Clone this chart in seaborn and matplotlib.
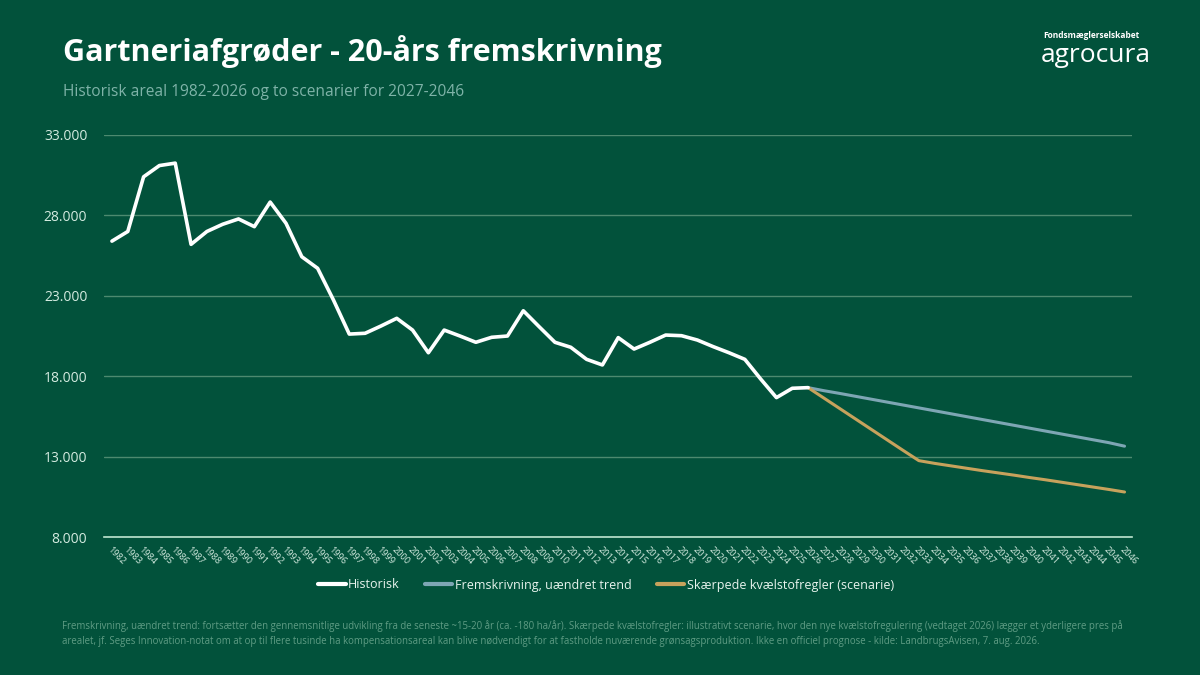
import numpy as np
import pandas as pd
import matplotlib
matplotlib.use('Agg')
import matplotlib.pyplot as plt
import seaborn as sns

# ---------------------------- DATA ----------------------------
hist_years = list(range(1982, 2027))
hist_values = [26400, 27000, 30400, 31100, 31250, 26200, 27000, 27450, 27780, 27300,
               28830, 27510, 25430, 24710, 22740, 20620, 20670, 21120, 21600, 20870,
               19460, 20870, 20500, 20110, 20420, 20500, 22070, 21080, 20110, 19800,
               19050, 18700, 20400, 19690, 20110, 20560, 20520, 20250, 19840, 19460,
               19050, 17830, 16670, 17250, 17290]

proj_years = list(range(2026, 2047))
trend_values = [17290, 17100, 16930, 16750, 16570, 16390, 16210, 16030, 15850, 15670,
                15490, 15310, 15130, 14950, 14770, 14590, 14410, 14230, 14050, 13870,
                13650]
strict_values = [17290, 16640, 15990, 15340, 14690, 14040, 13390, 12750, 12580, 12430,
                 12280, 12130, 11990, 11850, 11700, 11560, 11410, 11260, 11110, 10960,
                 10800]

series_names = ['Historisk', 'Fremskrivning, uændret trend', 'Skærpede kvælstofregler (scenarie)']
y_ticks = [8000, 13000, 18000, 23000, 28000, 33000]

# ---------------------------- STYLE ----------------------------
bg = '#02523b'
colors = ['#ffffff', '#7ea6b4', '#c7a25c']

sns.set_theme(style='white')
plt.rcParams['font.family'] = ['Open Sans', 'DejaVu Sans']

df = pd.concat([
    pd.DataFrame({'year': hist_years, 'value': hist_values, 'series': series_names[0]}),
    pd.DataFrame({'year': proj_years, 'value': trend_values, 'series': series_names[1]}),
    pd.DataFrame({'year': proj_years, 'value': strict_values, 'series': series_names[2]}),
])

fig = plt.figure(figsize=(12, 6.75), dpi=100, facecolor=bg)
ax = fig.add_axes([0.0867, 0.2044, 0.857, 0.5956])
ax.set_facecolor(bg)

sns.lineplot(data=df, x='year', y='value', hue='series', hue_order=series_names,
             palette=dict(zip(series_names, colors)), linewidth=2.2, ax=ax,
             legend=False, zorder=3)
# historic line on top and a bit thicker
for line in ax.lines:
    if line.get_color() == '#ffffff':
        line.set_zorder(4)
        line.set_linewidth(2.6)

ax.set_xlim(1981.5, 2046.5)
ax.set_ylim(8000, 33000)
ax.set_yticks(y_ticks)
ax.set_yticklabels([f'{v:,}'.replace(',', '.') for v in y_ticks], color='#d4ebe0', fontsize=10)
ax.yaxis.grid(True, color='#4d8a6f', linewidth=1)
ax.tick_params(axis='y', length=0, pad=12)

all_years = list(range(1982, 2047))
ax.set_xticks(all_years)
ax.set_xticklabels(all_years, rotation=-45, ha='left', va='top', rotation_mode='anchor',
                   fontsize=6.6, color='#d4ebe0')
ax.set_xticks(np.arange(1981.5, 2047, 1), minor=True)
ax.tick_params(axis='x', which='major', length=0, pad=6)
ax.tick_params(axis='x', which='minor', length=4, color='#bfe6d0', width=1, direction='out')
ax.set_xlabel('')
ax.set_ylabel('')

for s in ['top', 'right', 'left']:
    ax.spines[s].set_visible(False)
ax.spines['bottom'].set_color('#bfe6d0')
ax.spines['bottom'].set_linewidth(1.2)

handles = [plt.Line2D([0], [0], color=c, linewidth=3) for c in colors]
fig.legend(handles, series_names, loc='center', bbox_to_anchor=(0.505, 1 - 585 / 675),
           ncol=3, frameon=False, labelcolor='#e8f4ee', fontsize=9,
           handlelength=2.2, handletextpad=0.2, columnspacing=2.0)

# ---------------------------- TEXTS ----------------------------
fig.text(0.0525, 1 - 52 / 675, 'Gartneriafgrøder - 20-års fremskrivning',
         fontsize=22, fontweight='bold', color='white', va='center')
fig.text(0.0525, 1 - 92 / 675, 'Historisk areal 1982-2026 og to scenarier for 2027-2046',
         fontsize=11.2, color='#7fb3a8', va='center')

fig.text(0.869, 1 - 35 / 675, 'Fondsmæglerselskabet', fontsize=6, fontweight='bold',
         color='white', va='center')
fig.text(0.867, 1 - 55 / 675, 'agrocura', fontsize=19, color='white', va='center')

note = ('Fremskrivning, uændret trend: fortsætter den gennemsnitlige udvikling fra de seneste ~15-20 år '
        '(ca. -180 ha/år). Skærpede kvælstofregler: illustrativt scenarie, hvor den nye kvælstofregulering '
        '(vedtaget 2026) lægger et yderligere pres på\narealet, jf. Seges Innovation-notat om at op til flere '
        'tusinde ha kompensationsareal kan blive nødvendigt for at fastholde nuværende grønsagsproduktion. '
        'Ikke en officiel prognose - kilde: LandbrugsAvisen, 7. aug. 2026.')
fig.text(0.052, 1 - 634 / 675, note, fontsize=6.9, color='#5f9c84', va='center', linespacing=1.5)

fig.savefig('out.png', dpi=100, facecolor=bg)
